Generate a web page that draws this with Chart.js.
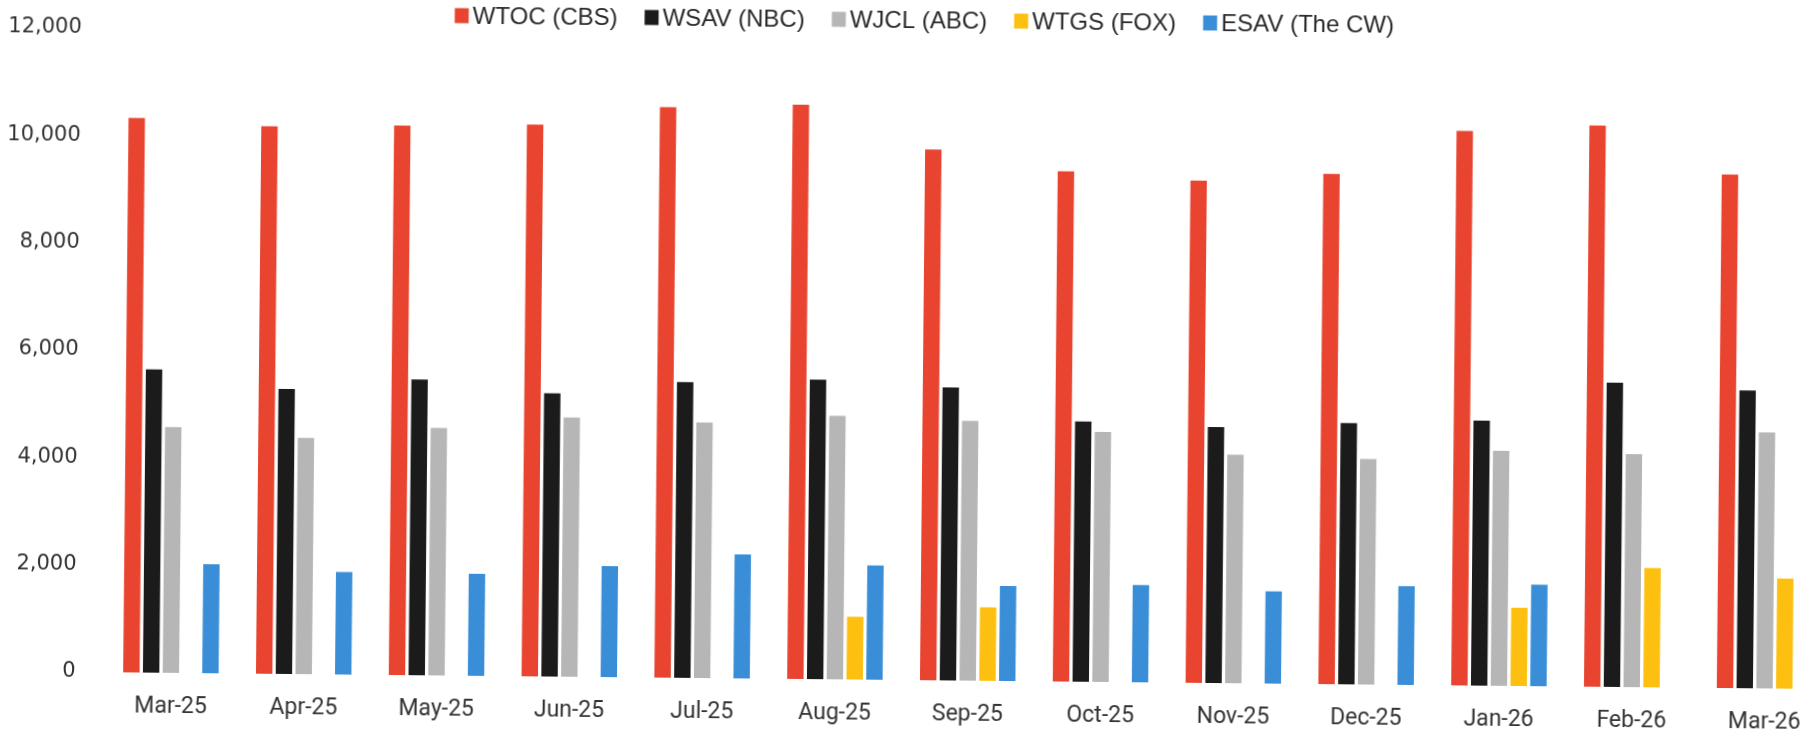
<!DOCTYPE html>
<html><head><meta charset="utf-8">
<script src="https://cdn.jsdelivr.net/npm/chart.js@4.4.1/dist/chart.umd.min.js"></script>
<style>
html,body{margin:0;padding:0;background:#fff;overflow:hidden;width:1811px;height:735px;}
#wrap{position:absolute;left:0;top:0;width:1834px;height:735px;transform:rotate(0.56deg);transform-origin:905px 367px;}
</style></head><body>
<div id="wrap"><canvas id="c" width="1834" height="735"></canvas></div>
<script>
const categories = ["Mar-25","Apr-25","May-25","Jun-25","Jul-25","Aug-25","Sep-25","Oct-25","Nov-25","Dec-25","Jan-26","Feb-26","Mar-26"];
const seriesNames = ["WTOC (CBS)","WSAV (NBC)","WJCL (ABC)","WTGS (FOX)","ESAV (The CW)"];
const wtoc = [10330,10200,10240,10280,10630,10700,9890,9510,9360,9510,10330,10460,9570];
const wsav = [5650,5310,5510,5280,5510,5580,5460,4850,4770,4870,4940,5670,5550];
const wjcl = [4580,4400,4610,4830,4760,4910,4840,4660,4260,4200,4380,4340,4770];
const wtgs = [null,null,null,null,null,1170,1370,null,null,null,1460,2220,2050];
const esav = [2030,1910,1900,2070,2310,2130,1770,1810,1720,1840,1890,null,null];
const yTicks = [0,2000,4000,6000,8000,10000,12000];
const colors = ["#e8442f","#1b1b1b","#b6b6b6","#fdc010","#3a8ed8"];

const legendPlugin = {
  id:'customLegend',
  afterDraw(chart){
    const ctx = chart.ctx;
    ctx.save();
    ctx.font = '24px "Liberation Sans"';
    ctx.textBaseline = 'middle';
    const bw = 14, bh = 15, gap = 4, itemGap = 27, cy = 20, cx = 921;
    const items = chart.data.datasets.map(d=>({t:d.label,c:d.backgroundColor,w:ctx.measureText(d.label).width}));
    const total = items.reduce((s,it)=>s+bw+gap+it.w,0)+itemGap*(items.length-1);
    let x = cx - total/2;
    items.forEach(it=>{
      ctx.fillStyle = it.c;
      ctx.fillRect(x, cy-bh/2, bw, bh);
      x += bw+gap;
      ctx.fillStyle = '#2a2a2a';
      ctx.fillText(it.t, x, cy+1);
      x += it.w + itemGap;
    });
    ctx.restore();
  }
};

const series = [wtoc,wsav,wjcl,wtgs,esav];
new Chart(document.getElementById('c'), {
  type:'bar',
  data:{
    labels:categories,
    datasets:series.map((s,i)=>({label:seriesNames[i],data:s,backgroundColor:colors[i],borderWidth:0}))
  },
  options:{
    responsive:false, animation:false,
    layout:{padding:{top:36,left:0,right:0,bottom:0}},
    plugins:{legend:{display:false},tooltip:{enabled:false}},
    datasets:{bar:{categoryPercentage:0.744,barPercentage:0.83}},
    scales:{
      x:{grid:{display:false,drawTicks:false},border:{display:false},
         ticks:{font:{family:'Roboto',size:23},color:'#333',padding:20},
         afterFit(s){s.height=55;}},
      y:{min:0,max:12000,grid:{display:false},border:{display:false},
         afterBuildTicks(s){s.ticks=yTicks.map(v=>({value:v}));},
         ticks:{font:{family:'DejaVu Sans',size:21},color:'#333',padding:21,
                callback:v=>v.toLocaleString('en-US')},
         afterFit(s){s.width=107.5;}}
    }
  },
  plugins:[legendPlugin]
});
</script>
</body></html>
